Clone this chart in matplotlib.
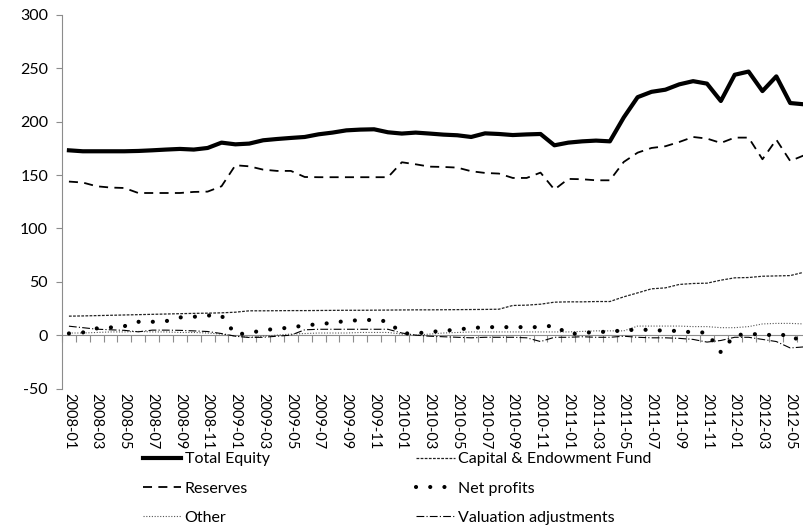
import numpy as np
import pandas as pd
import matplotlib
matplotlib.use("Agg")
import matplotlib.pyplot as plt

plt.rcParams['font.family'] = ['Lato', 'DejaVu Sans']

months = pd.period_range('2008-01', '2012-06', freq='M').strftime('%Y-%m').tolist()

total_equity = [173.2, 172.3, 172.3, 172.3, 172.3, 172.6, 173.2, 173.9, 174.5, 173.9, 175.4, 180.4,
                178.8, 179.5, 182.6, 183.8, 184.8, 185.7, 188.2, 189.8, 191.9, 192.6, 192.9, 190.1,
                188.9, 189.8, 188.9, 187.9, 187.3, 185.7, 189.1, 188.5, 187.5, 188.1, 188.5, 177.9,
                180.4, 181.6, 182.3, 181.6, 204.0, 223.0, 228.0, 230.0, 235.0, 238.0, 235.7, 219.4,
                244.0, 247.0, 228.7, 242.5, 217.5, 216.3]
capital_fund = [17.8, 18.0, 18.3, 18.6, 18.9, 19.2, 19.5, 19.8, 20.1, 20.4, 20.6, 20.9,
                21.5, 22.8, 22.8, 22.9, 23.0, 23.0, 23.1, 23.2, 23.3, 23.3, 23.4, 23.5,
                23.6, 23.7, 23.7, 23.8, 23.9, 24.0, 24.1, 24.3, 27.8, 28.1, 29.0, 30.9,
                31.2, 31.2, 31.5, 31.5, 35.9, 39.6, 43.4, 44.3, 47.5, 48.4, 48.7, 51.5,
                53.7, 54.0, 55.2, 55.5, 55.8, 59.0]
reserves = [143.9, 143.0, 139.5, 138.3, 137.9, 133.2, 133.2, 133.2, 133.2, 134.2, 134.5, 139.5,
            159.2, 158.2, 155.1, 153.9, 153.9, 148.2, 148.0, 148.0, 148.0, 148.0, 148.0, 148.0,
            162.0, 160.1, 157.9, 157.6, 157.0, 153.6, 152.0, 151.4, 147.3, 147.3, 152.3, 136.4,
            146.4, 146.1, 145.1, 145.1, 162.3, 171.0, 175.4, 177.0, 181.0, 185.7, 184.2, 180.1,
            185.1, 185.1, 164.8, 183.2, 163.2, 168.5]
net_profits = [1.6, 2.5, 6.3, 7.2, 8.4, 12.5, 12.5, 13.1, 16.6, 17.2, 18.4, 18.4,
               0.7, 1.9, 4.7, 5.9, 7.2, 9.1, 10.3, 11.5, 13.4, 14.0, 14.3, 12.8,
               1.6, 1.6, 3.0, 4.0, 5.3, 6.6, 7.5, 7.5, 7.5, 7.5, 7.5, 9.1,
               0.9, 1.9, 3.1, 3.1, 4.7, 5.0, 5.0, 4.0, 4.0, 2.5, 2.5, -16.0,
               0.0, 0.9, 0.9, -0.6, 0.9, -9.0]
other = [2.0, 2.0, 2.5, 3.0, 3.0, 3.5, 3.0, 3.0, 2.5, 2.5, 2.0, 1.0,
         -1.0, -2.0, -1.0, 0.0, 1.0, 1.5, 2.0, 2.0, 2.0, 2.5, 2.5, 2.5,
         1.0, 0.0, 1.0, 2.0, 2.5, 3.0, 3.0, 3.0, 3.0, 3.0, 3.0, 3.0,
         3.0, 3.5, 4.0, 4.0, 4.0, 8.5, 8.5, 8.5, 8.5, 8.0, 8.0, 7.0,
         7.0, 8.0, 10.5, 11.0, 11.0, 10.5]
valuation_adj = [8.4, 7.0, 5.6, 5.0, 4.5, 3.1, 4.7, 4.7, 4.5, 4.0, 3.4, 1.5,
                 -1.0, -2.2, -2.0, -1.0, 0.0, 5.0, 5.5, 5.5, 5.5, 5.5, 5.5, 5.5,
                 2.0, 0.0, -1.0, -1.5, -2.0, -2.5, -2.0, -2.0, -2.0, -2.5, -6.0, -2.0,
                 -2.0, -1.5, -2.0, -2.0, -1.0, -2.0, -2.5, -2.5, -3.0, -4.0, -6.5, -5.0,
                 -2.0, -2.0, -4.0, -6.0, -12.0, -11.0]
y_ticks = [-50, 0, 50, 100, 150, 200, 250, 300]

x = np.arange(len(months))
gray = '#8c8c8c'

fig = plt.figure(figsize=(8.04, 5.29), dpi=100)
ax = fig.add_axes([62/804, 1-388.5/529, (811-62)/804, (388.5-15)/529])

l_oth, = ax.plot(x, other, color='#555555', lw=0.8, linestyle=(0, (1, 1.5)), label='Other')
l_val, = ax.plot(x, valuation_adj, color='black', lw=0.8, linestyle=(0, (7, 2, 1, 2)),
                 label='Valuation adjustments')
l_cap, = ax.plot(x, capital_fund, color='#222222', lw=0.9, linestyle=(0, (2.2, 1.1)),
                 label='Capital & Endowment Fund')
l_np, = ax.plot(x, net_profits, color='black', lw=3.0, linestyle=(0, (0.01, 3.4)),
                dash_capstyle='round', label='Net profits')
l_res, = ax.plot(x, reserves, color='black', lw=1.3, linestyle=(0, (5, 3.5)), label='Reserves')
l_te, = ax.plot(x, total_equity, color='black', lw=3.0, solid_joinstyle='round',
                label='Total Equity')

ax.set_xlim(-0.5, len(months) - 0.5)
ax.set_ylim(-50, 300)

for s in ['top', 'right', 'bottom']:
    ax.spines[s].set_visible(False)
ax.spines['left'].set_color(gray)
ax.spines['left'].set_linewidth(0.8)

ax.set_yticks(y_ticks)
ax.set_yticklabels([str(v) for v in y_ticks])
ax.tick_params(axis='y', length=4, color=gray, width=0.8, labelsize=11.5, pad=6)

ax.set_xticks(x[::2])
ax.set_xticklabels(months[::2], rotation=-90)
ax.tick_params(axis='x', length=0, labelsize=10.5, pad=3)

sec = ax.secondary_xaxis(50/350)
sec.set_xticks(np.arange(-0.5, len(months), 1.0))
sec.tick_params(axis='x', length=5, color=gray, width=0.8, direction='out', labelbottom=False)
sec.spines['bottom'].set_color(gray)
sec.spines['bottom'].set_linewidth(0.8)

handles = [l_te, l_res, l_oth, l_cap, l_np, l_val]
fig.legend(handles=handles, labels=[h.get_label() for h in handles], ncol=2,
           loc='upper left', bbox_to_anchor=(143/804, 1-452/529), frameon=False,
           fontsize=11.5, handlelength=2.4, handletextpad=0.2, columnspacing=9.2,
           labelspacing=0.95, borderpad=0, borderaxespad=0)

fig.savefig('out.png', dpi=100)
